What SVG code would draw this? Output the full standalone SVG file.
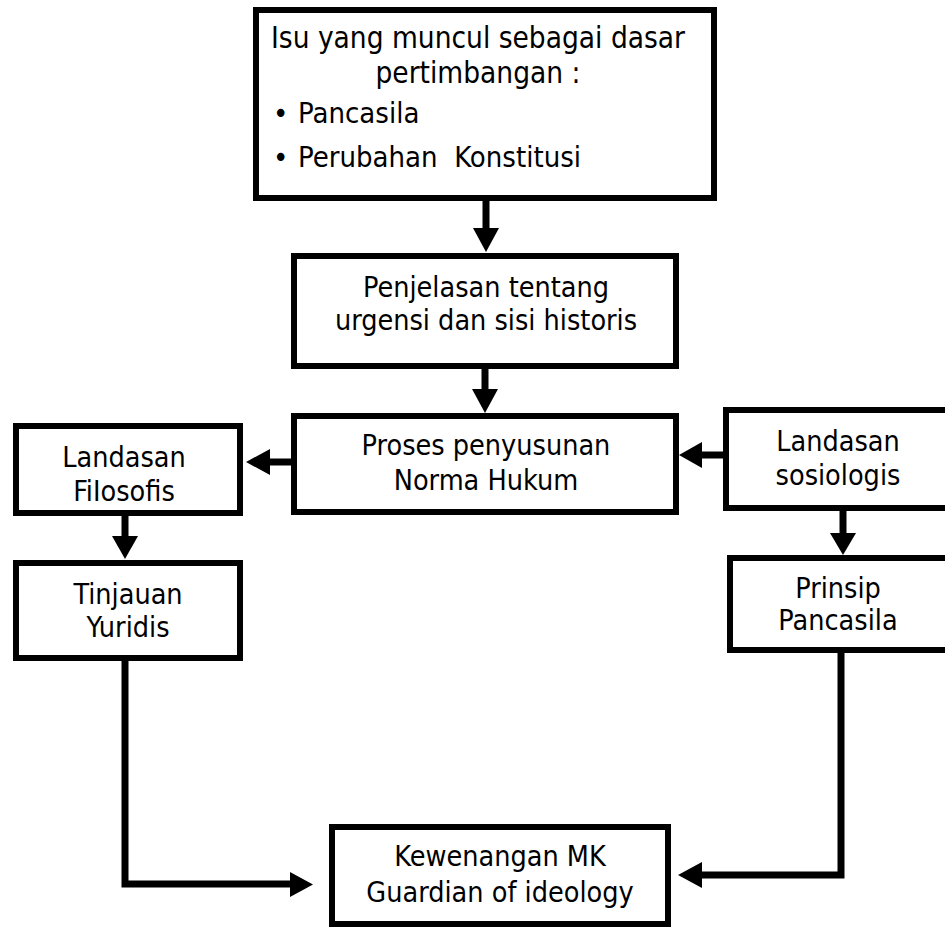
<svg xmlns="http://www.w3.org/2000/svg" width="945" height="927" viewBox="0 0 945 927">
<style>
.box{fill:#fff;stroke:#000;stroke-width:6}
.t{font-family:"DejaVu Sans Condensed","DejaVu Sans",sans-serif;font-stretch:condensed;font-size:28.5px;fill:#000;text-anchor:middle}
.tt{font-size:29.5px}
.tl{font-family:"DejaVu Sans Condensed","DejaVu Sans",sans-serif;font-stretch:condensed;font-size:29px;fill:#000;white-space:pre}
.c{fill:none;stroke:#000;stroke-width:7}
.h{fill:#000;stroke:none}
</style>
<rect width="945" height="927" fill="#fff"/>
<g id="connectors">
<line class="c" x1="486" y1="201" x2="486" y2="230"/><polygon class="h" points="473,228 499,228 486,252"/>
<line class="c" x1="485" y1="369" x2="485" y2="391"/><polygon class="h" points="472,389 498,389 485,413"/>
<line class="c" x1="291" y1="462" x2="268" y2="462"/><polygon class="h" points="270,449 270,475 246,462"/>
<line class="c" x1="723" y1="455" x2="700" y2="455"/><polygon class="h" points="702,442 702,468 679,455"/>
<line class="c" x1="125" y1="516" x2="125" y2="538"/><polygon class="h" points="112,536 138,536 125,559"/>
<line class="c" x1="843" y1="511" x2="843" y2="535"/><polygon class="h" points="830,533 856,533 843,555"/>
<path class="c" d="M125 661 V884 H292"/><polygon class="h" points="290,872 290,897 313,884.5"/>
<path class="c" d="M841 653 V875 H700"/><polygon class="h" points="702,862 702,888 678,875"/>
</g>
<g id="n1">
<rect class="box" x="256" y="10" width="458" height="188"/>
<text class="t tt" x="478" y="48">Isu yang muncul sebagai dasar</text>
<text class="t tt" x="478" y="83">pertimbangan :</text>
<text class="tl" x="273" y="123">•</text>
<text class="tl" x="298" y="123">Pancasila</text>
<text class="tl" x="273" y="167">•</text>
<text class="tl" x="298" y="167">Perubahan  Konstitusi</text>
</g>
<g id="n2">
<rect class="box" x="294" y="256" width="382" height="110"/>
<text class="t" x="486" y="297">Penjelasan tentang</text>
<text class="t" x="486" y="330">urgensi dan sisi historis</text>
</g>
<g id="n3">
<rect class="box" x="294" y="416" width="382" height="96"/>
<text class="t" x="486" y="455">Proses penyusunan</text>
<text class="t" x="486" y="490">Norma Hukum</text>
</g>
<g id="n4">
<rect class="box" x="16" y="426" width="224" height="87"/>
<text class="t" x="124" y="467">Landasan</text>
<text class="t" x="124" y="501">FiIosofis</text>
</g>
<g id="n5">
<rect class="box" x="16" y="563" width="224" height="95"/>
<text class="t" x="128" y="604">Tinjauan</text>
<text class="t" x="128" y="637">Yuridis</text>
</g>
<g id="n6">
<rect class="box" x="726" y="410" width="240" height="98"/>
<text class="t" x="838" y="451">Landasan</text>
<text class="t" x="838" y="485">sosiologis</text>
</g>
<g id="n7">
<rect class="box" x="730" y="558" width="240" height="92"/>
<text class="t" x="838" y="598">Prinsip</text>
<text class="t" x="838" y="630">Pancasila</text>
</g>
<g id="n8">
<rect class="box" x="332" y="827" width="336" height="97"/>
<text class="t" x="500" y="866">Kewenangan MK</text>
<text class="t" x="500" y="902">Guardian of ideology</text>
</g>
</svg>
